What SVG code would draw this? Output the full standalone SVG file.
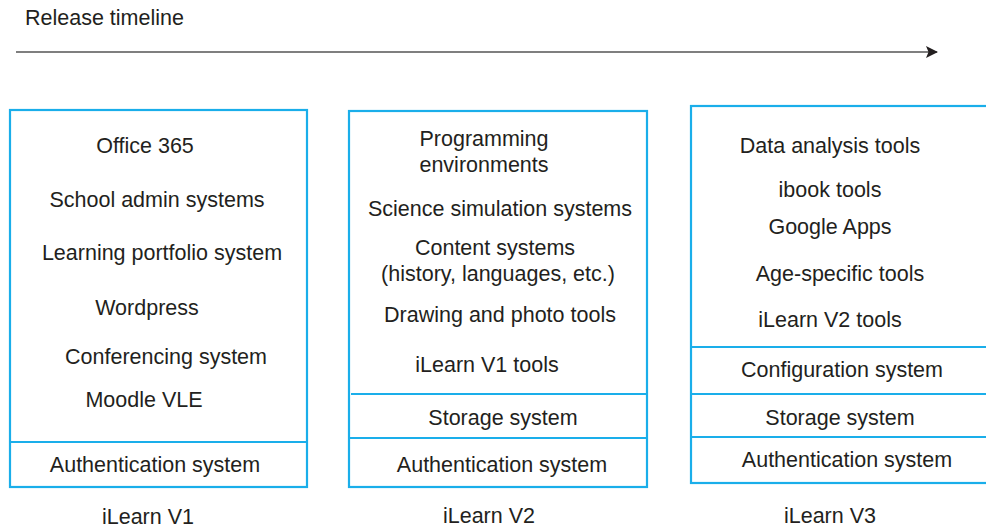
<svg xmlns="http://www.w3.org/2000/svg" width="986" height="529" viewBox="0 0 986 529">
<style>
text{font-family:"Liberation Sans",Arial,sans-serif;font-size:21.5px;fill:#231f20;text-anchor:middle}
.box{fill:none;stroke:#1aaeea;stroke-width:2.2}
.div{stroke:#1aaeea;stroke-width:2.2}
.tl{stroke:#555;stroke-width:1.6;fill:none}
</style>
<defs>
<marker id="ah" markerWidth="14" markerHeight="14" refX="11" refY="6.5" orient="auto" markerUnits="userSpaceOnUse">
<path d="M0,0.5 L12,6.5 L0,12.5 L2.5,6.5 Z" fill="#231f20"/>
</marker>
</defs>
<text x="104.5" y="25">Release timeline</text>
<g id="connectors">
<line class="tl" x1="16" y1="52" x2="937" y2="52" marker-end="url(#ah)"/>
</g>
<g id="v1">
<rect class="box" x="10" y="110" width="297" height="377"/>
<line class="div" x1="10" y1="442" x2="307" y2="442"/>
<text x="145" y="153">Office 365</text>
<text x="157" y="207">School admin systems</text>
<text x="162" y="260">Learning portfolio system</text>
<text x="147" y="315">Wordpress</text>
<text x="166" y="364">Conferencing system</text>
<text x="144" y="407">Moodle VLE</text>
<text x="155" y="472">Authentication system</text>
<text x="148" y="524">iLearn V1</text>
</g>
<g id="v2">
<rect class="box" x="349" y="111" width="298" height="376"/>
<line class="div" x1="351" y1="394" x2="648" y2="394"/>
<line class="div" x1="349" y1="438" x2="647" y2="438"/>
<text x="484" y="146">Programming</text>
<text x="484" y="172">environments</text>
<text x="500" y="216">Science simulation systems</text>
<text x="495" y="255">Content systems</text>
<text x="498" y="281">(history, languages, etc.)</text>
<text x="500" y="322">Drawing and photo tools</text>
<text x="487" y="372">iLearn V1 tools</text>
<text x="503" y="425">Storage system</text>
<text x="502" y="472">Authentication system</text>
<text x="489" y="523">iLearn V2</text>
</g>
<g id="v3">
<rect class="box" x="691" y="106" width="300" height="377"/>
<line class="div" x1="691" y1="347" x2="986" y2="347"/>
<line class="div" x1="691" y1="394" x2="986" y2="394"/>
<line class="div" x1="691" y1="437" x2="986" y2="437"/>
<text x="830" y="153">Data analysis tools</text>
<text x="830" y="197">ibook tools</text>
<text x="830" y="234">Google Apps</text>
<text x="840" y="281">Age-specific tools</text>
<text x="830" y="327">iLearn V2 tools</text>
<text x="842" y="377">Configuration system</text>
<text x="840" y="425">Storage system</text>
<text x="847" y="467">Authentication system</text>
<text x="830" y="523">iLearn V3</text>
</g>
</svg>
